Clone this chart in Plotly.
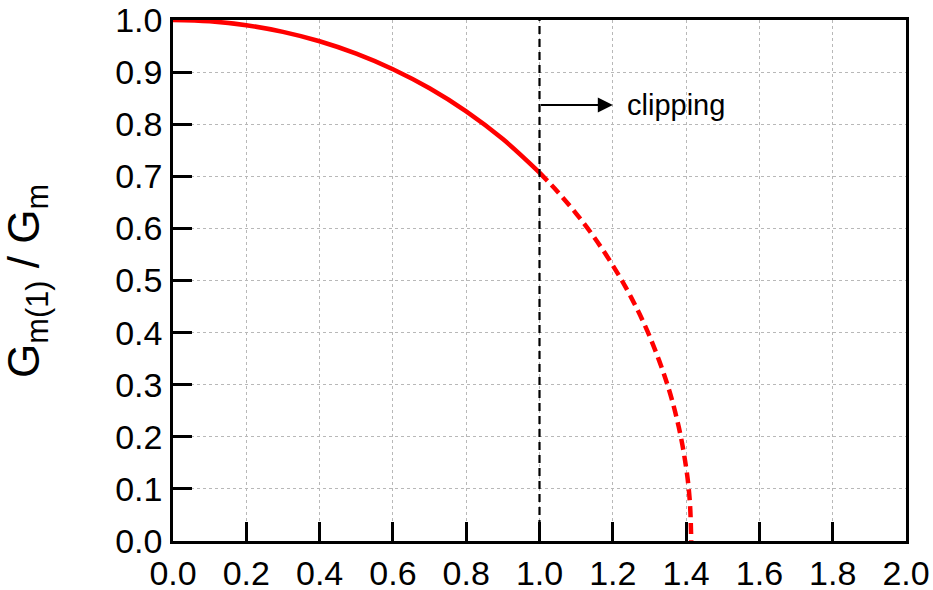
import plotly.graph_objects as go

# Normalised ratio vs drive level, unclipped region (solid)
x_linear = [0.0, 0.1, 0.2, 0.3, 0.4, 0.5, 0.6, 0.7, 0.8, 0.9, 1.0]
y_linear = [1.0, 0.9975, 0.990, 0.9772, 0.9592, 0.9354, 0.9055, 0.8689, 0.8246, 0.7714, 0.7071]

# Clipped region (dashed)
x_clip = [1.0, 1.05, 1.1, 1.15, 1.2, 1.25, 1.3, 1.35, 1.38, 1.4, 1.41, 1.414]
y_clip = [0.7071, 0.6699, 0.6285, 0.582, 0.529, 0.4677, 0.3937, 0.2979, 0.2186, 0.1414, 0.0771, 0.0]

x_ticks = [0.0, 0.2, 0.4, 0.6, 0.8, 1.0, 1.2, 1.4, 1.6, 1.8, 2.0]
y_ticks = [0.0, 0.1, 0.2, 0.3, 0.4, 0.5, 0.6, 0.7, 0.8, 0.9, 1.0]

clip_x = 1.0
arrow_y = 0.837
arrow_end_x = 1.2

FONT = "Liberation Sans, Arial, sans-serif"

fig = go.Figure()
fig.add_trace(go.Scatter(x=x_linear, y=y_linear, mode="lines",
                         line=dict(color="#ff0000", width=4.5, shape="spline"), showlegend=False))
fig.add_trace(go.Scatter(x=x_clip, y=y_clip, mode="lines",
                         line=dict(color="#ff0000", width=4.5, dash="11px,6px", shape="spline"), showlegend=False))

fig.add_shape(type="line", x0=clip_x, x1=clip_x, y0=0, y1=1, xref="x", yref="y",
              line=dict(color="black", width=2.2, dash="8px,5px"))
fig.add_annotation(x=arrow_end_x, y=arrow_y, ax=clip_x, ay=arrow_y, xref="x", yref="y", axref="x", ayref="y",
                   showarrow=True, arrowhead=2, arrowsize=1.5, arrowwidth=2, arrowcolor="black", text="")
fig.add_annotation(x=arrow_end_x + 0.033, y=arrow_y, xref="x", yref="y", text="clipping", showarrow=False,
                   xanchor="left", yanchor="middle", font=dict(family=FONT, size=29, color="black"))

# y-axis title, rotated
fig.add_annotation(x=-0.2, y=0.5, xref="paper", yref="paper", textangle=-90, showarrow=False,
                   xanchor="center", yanchor="middle",
                   text="G<sub>m(1)</sub> / G<sub>m</sub>", font=dict(family=FONT, size=44, color="black"))

axis_common = dict(showline=True, linecolor="black", linewidth=2.5, mirror=True,
                   ticks="inside", ticklen=19, tickwidth=2.5, tickcolor="black",
                   showgrid=True, gridcolor="#b8b8b8", gridwidth=1, griddash="3px,3px",
                   zeroline=False, automargin=False,
                   tickfont=dict(family=FONT, size=34, color="black"))

fig.update_xaxes(range=[0, 2], tickvals=x_ticks, ticktext=[f"{v:.1f}" for v in x_ticks],
                 ticklabelstandoff=0, **axis_common)
fig.update_yaxes(range=[0, 1], tickvals=y_ticks, ticktext=[f"{v:.1f}" for v in y_ticks],
                 ticklabelstandoff=1, **axis_common)

fig.update_layout(width=933, height=590, margin=dict(l=173, r=27, t=20, b=49),
                  plot_bgcolor="white", paper_bgcolor="white")

fig.write_html("out.html")
